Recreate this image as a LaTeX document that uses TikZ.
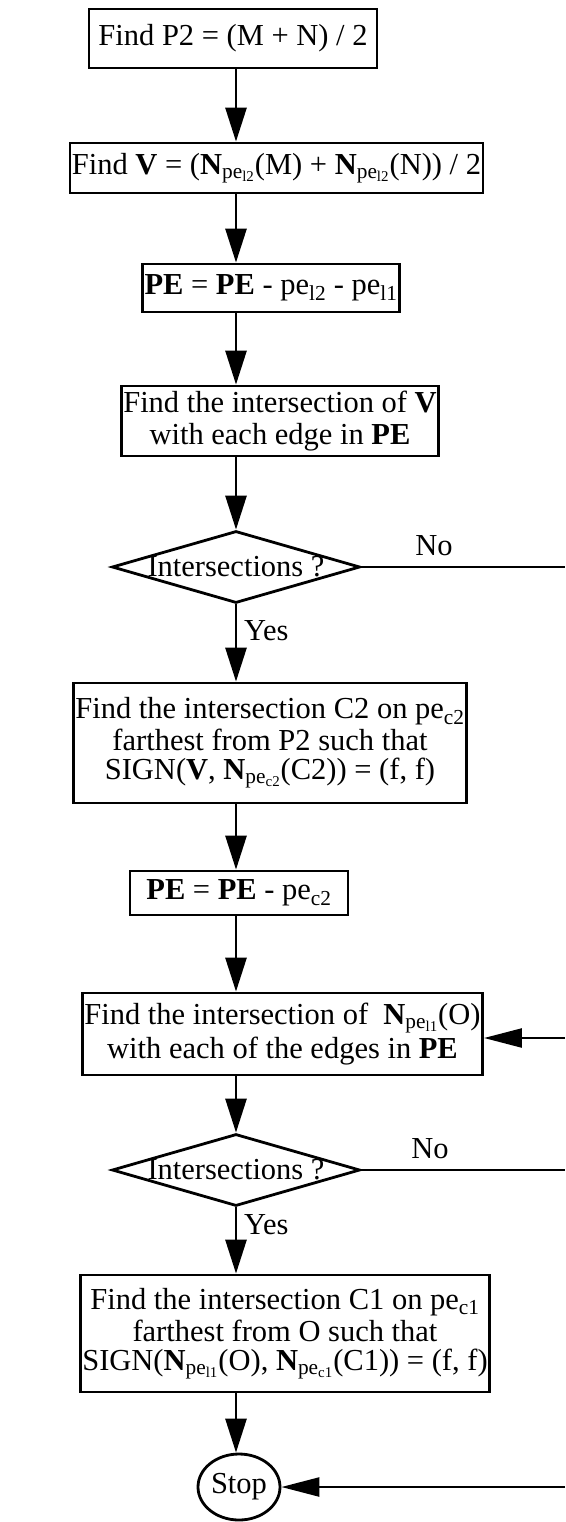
\documentclass[tikz,border=0pt]{standalone}
\usepackage{fontspec}
\setmainfont{Liberation Serif}
\usetikzlibrary{shapes.geometric,arrows.meta}
\newcommand{\sbs}[1]{\textsubscript{#1}}
\begin{document}
\begin{tikzpicture}[x=1pt,y=-1pt,
  font=\fontsize{30.5}{32}\selectfont,
  every node/.style={inner sep=1pt},
  box/.style={draw,line width=2.8pt,align=center,inner sep=2pt},
  decision/.style={draw,diamond,line width=2.8pt,inner sep=0pt},
  term/.style={draw,ellipse,line width=2.8pt,inner sep=0pt},
  flow/.style={line width=2.8pt,-{Triangle[length=34pt,width=21pt]}},
  back/.style={line width=2.4pt,-{Triangle[length=38pt,width=19pt]}},
  exit/.style={line width=2.4pt}]
\useasboundingbox (0,0) rectangle (565,1522);

% spine of the main flow and the right-hand edge where loop lines leave
\coordinate (spine) at (236,0);
\coordinate (edge) at (565,0);

\node[box,minimum width=288pt,minimum height=59pt] (b1) at (233,38.5)
  {Find P2 = (M + N) / 2};
\node[box,minimum width=363pt,minimum height=50pt] (b2) at (276.5,168)
  {Find \textbf{V} = (\textbf{N}\sbs{pe\sbs{l2}}(M) + \textbf{N}\sbs{pe\sbs{l2}}(N)) / 2};
\node[box,minimum width=252pt,minimum height=48pt] (b3) at (271,288)
  {\textbf{PE} = \textbf{PE} - pe\sbs{l2} - pe\sbs{l1}};
\node[box,minimum width=270pt,minimum height=70pt] (b4) at (280,421)
  {Find the intersection of \textbf{V}\\ with each edge in \textbf{PE}};
\node[decision,minimum width=248pt,minimum height=72pt] (d1) at (236,567) {};
\node at (d1) {Intersections ?};
\node (no1) at (434,546) {No};
\node[anchor=west] (yes1) at (243,631) {Yes};
\node[box,minimum width=356pt,minimum height=120pt] (b5) at (270,743)
  {Find the intersection C2 on pe\sbs{c2}\\ farthest from P2 such that\\[-3pt]
   SIGN(\textbf{V}, \textbf{N}\sbs{pe\sbs{c2}}(C2)) = (f, f)};
\node[box,minimum width=218pt,minimum height=44pt] (b6) at (239,893)
  {\textbf{PE} = \textbf{PE} - pe\sbs{c2}};
\node[box,minimum width=381pt,minimum height=82pt] (b7) at (282.5,1034)
  {Find the intersection of \ \textbf{N}\sbs{pe\sbs{l1}}(O)\\[2pt] with each of the edges in \textbf{PE}};
\node[decision,minimum width=248pt,minimum height=72pt] (d2) at (236,1170) {};
\node at (d2) {Intersections ?};
\node (no2) at (430,1149) {No};
\node[anchor=west] (yes2) at (243,1225) {Yes};
\node[box,minimum width=386pt,minimum height=117pt] (b8) at (285,1333.5)
  {Find the intersection C1 on pe\sbs{c1}\\ farthest from O such that\\[-3pt]
   SIGN(\textbf{N}\sbs{pe\sbs{l1}}(O), \textbf{N}\sbs{pe\sbs{c1}}(C1)) = (f, f)};
\node[term,minimum width=82pt,minimum height=66pt] (stop) at (239,1487) {Stop};

% main downward flow
\draw[flow] (b1.south -| spine) -- (b2.north -| spine);
\draw[flow] (b2.south -| spine) -- (b3.north -| spine);
\draw[flow] (b3.south -| spine) -- (b4.north -| spine);
\draw[flow] (b4.south -| d1.north) -- (d1.north);
\draw[flow] (d1.south) -- (b5.north -| d1.south);
\draw[flow] (b5.south -| spine) -- (b6.north -| spine);
\draw[flow] (b6.south -| spine) -- (b7.north -| spine);
\draw[flow] (b7.south -| d2.north) -- (d2.north);
\draw[flow] (d2.south) -- (b8.north -| d2.south);
\draw[flow] (b8.south -| spine) -- (stop.north -| spine);

% "No" branches and returning lines at the right edge
\coordinate (out1) at (d1.east -| edge);
\coordinate (out2) at (d2.east -| edge);
\coordinate (in7) at (565,1038);
\coordinate (instop) at (stop.east -| edge);
\draw[exit] (d1.east) -- (out1);
\draw[exit] (d2.east) -- (out2);
\draw[back] (in7) -- (in7 -| b7.east);
\draw[back] (instop) -- (stop.east);
\end{tikzpicture}
\end{document}
